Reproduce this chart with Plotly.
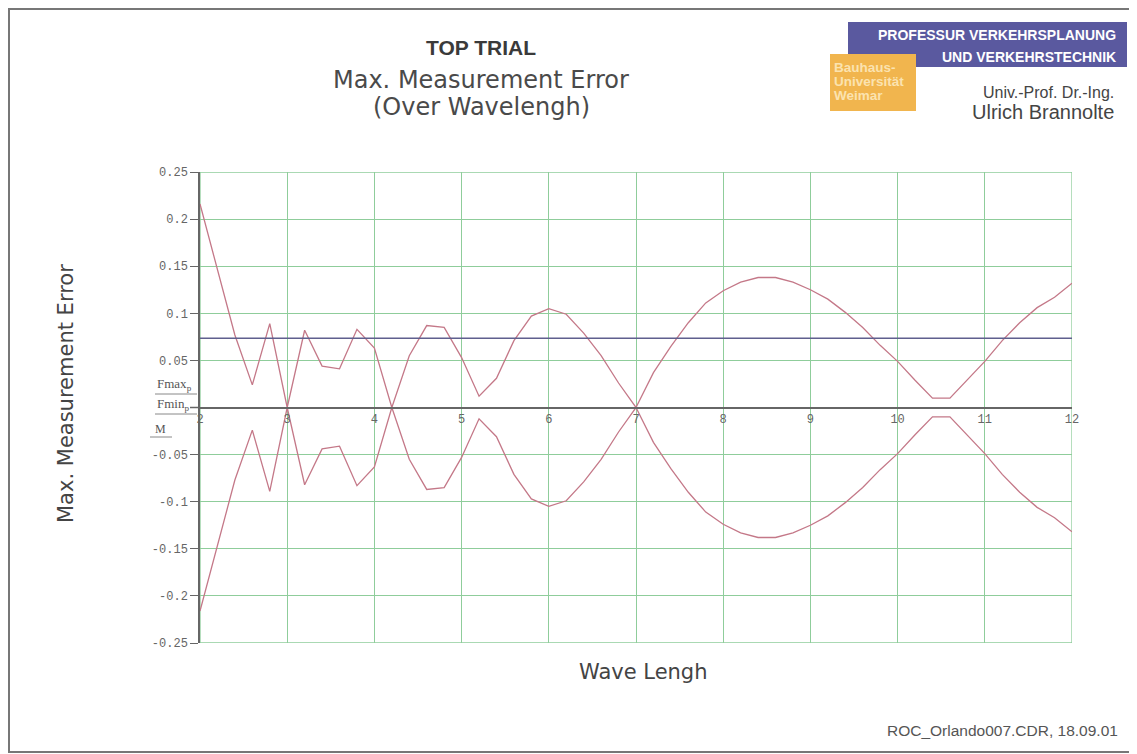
import plotly.graph_objects as go

# wave length samples (step 0.2)
wave_length = [2.0, 2.2, 2.4, 2.6, 2.8, 3.0, 3.2, 3.4, 3.6, 3.8,
               4.0, 4.2, 4.4, 4.6, 4.8, 5.0, 5.2, 5.4, 5.6, 5.8,
               6.0, 6.2, 6.4, 6.6, 6.8, 7.0, 7.2, 7.4, 7.6, 7.8,
               8.0, 8.2, 8.4, 8.6, 8.8, 9.0, 9.2, 9.4, 9.6, 9.8,
               10.0, 10.2, 10.4, 10.6, 10.8, 11.0, 11.2, 11.4, 11.6, 11.8,
               12.0]

f_max = [0.216, 0.145, 0.077, 0.024, 0.089, 0.000, 0.082, 0.044, 0.041, 0.083,
         0.063, 0.000, 0.055, 0.087, 0.085, 0.053, 0.012, 0.031, 0.071, 0.097,
         0.105, 0.099, 0.079, 0.055, 0.026, 0.000, 0.037, 0.065, 0.090, 0.111,
         0.124, 0.133, 0.138, 0.138, 0.133, 0.125, 0.115, 0.101, 0.085, 0.066,
         0.049, 0.029, 0.010, 0.010, 0.030, 0.049, 0.071, 0.090, 0.106, 0.117,
         0.132]

f_min = [-0.216, -0.145, -0.077, -0.024, -0.089, -0.000, -0.082, -0.044, -0.041, -0.083,
         -0.063, -0.000, -0.055, -0.087, -0.085, -0.053, -0.012, -0.031, -0.071, -0.097,
         -0.105, -0.099, -0.079, -0.055, -0.026, -0.000, -0.037, -0.065, -0.090, -0.111,
         -0.124, -0.133, -0.138, -0.138, -0.133, -0.125, -0.115, -0.101, -0.085, -0.066,
         -0.049, -0.029, -0.010, -0.010, -0.030, -0.049, -0.071, -0.090, -0.106, -0.117,
         -0.132]

m_x = [2.0, 12.0]
m_level = [0.0735, 0.0735]

x_ticks = [2, 3, 4, 5, 6, 7, 8, 9, 10, 11, 12]
y_ticks = [0.25, 0.2, 0.15, 0.1, 0.05, -0.05, -0.1, -0.15, -0.2, -0.25]
y_ticktext = ["0.25", "0.2", "0.15", "0.1", "0.05", "-0.05", "-0.1", "-0.15", "-0.2", "-0.25"]

# the page body adds an 8px margin, so the figure is drawn 8px smaller / shifted
OFF = 8
W, H = 1137 - OFF, 754 - OFF
ML, MR, MT, MB = 200 - OFF, 65, 172 - OFF, 111
PW, PH = W - ML - MR, H - MT - MB


def px(x):  # screen pixel -> paper x
    return (x - OFF - ML) / PW


def py(y):  # screen pixel -> paper y
    return (H - MB - (y - OFF)) / PH


CURVE = "#c47888"
GRID = "#8fcd9b"
AXIS = "#666"
SANS = "Liberation Sans, Arial, sans-serif"
WIDE = "DejaVu Sans, sans-serif"
MONO = "Liberation Mono, Courier New, monospace"
SERIF = "Liberation Serif, serif"

fig = go.Figure()
fig.add_trace(go.Scatter(x=wave_length, y=f_max, mode="lines", name="Fmax",
                         line=dict(color=CURVE, width=1.3)))
fig.add_trace(go.Scatter(x=wave_length, y=f_min, mode="lines", name="Fmin",
                         line=dict(color=CURVE, width=1.3)))
fig.add_trace(go.Scatter(x=m_x, y=m_level, mode="lines", name="M",
                         line=dict(color="#5f5f8e", width=1.5)))

fig.update_layout(
    width=W, height=H,
    margin=dict(l=ML, r=MR, t=MT, b=MB),
    paper_bgcolor="white", plot_bgcolor="white",
    showlegend=False,
    xaxis=dict(range=[2, 12], tickvals=x_ticks, showgrid=True, gridcolor=GRID, gridwidth=1.3,
               zeroline=False, anchor="free", position=0.5, showline=True,
               linecolor=AXIS, linewidth=1.5, ticks="",
               tickfont=dict(family=MONO, size=12, color="#666")),
    yaxis=dict(range=[-0.25, 0.25], tickvals=y_ticks, ticktext=y_ticktext,
               showgrid=True, gridcolor=GRID, gridwidth=1.3, zeroline=False,
               showline=True, linecolor=AXIS, linewidth=1.5,
               ticks="outside", ticklen=8, tickcolor=AXIS,
               tickfont=dict(family=MONO, size=12, color="#666")),
)

shapes = [
    # outer frame
    dict(type="rect", xref="paper", yref="paper", x0=px(9), x1=px(1134), y0=py(9), y1=py(752),
         line=dict(color="#777", width=2), layer="below"),
    # green plot border
    dict(type="rect", xref="x", yref="y", x0=2, x1=12, y0=-0.25, y1=0.25,
         line=dict(color=GRID, width=1.3), layer="below"),
    # zero line stub left of the y axis
    dict(type="line", xref="paper", yref="y", x0=px(190), x1=px(200), y0=0, y1=0,
         line=dict(color=AXIS, width=1.5)),
    # logo boxes
    dict(type="rect", xref="paper", yref="paper", x0=px(848), x1=px(1127), y0=py(22), y1=py(67),
         fillcolor="#5a599f", line=dict(width=0)),
    dict(type="rect", xref="paper", yref="paper", x0=px(830), x1=px(916), y0=py(54), y1=py(111),
         fillcolor="#f1b54e", line=dict(width=0)),
    # trace label underlines
    dict(type="line", xref="paper", yref="paper", x0=px(155), x1=px(197), y0=py(394), y1=py(394),
         line=dict(color="#888", width=1)),
    dict(type="line", xref="paper", yref="paper", x0=px(155), x1=px(197), y0=py(414), y1=py(414),
         line=dict(color="#888", width=1)),
    dict(type="line", xref="paper", yref="paper", x0=px(150), x1=px(172), y0=py(437), y1=py(437),
         line=dict(color="#888", width=1)),
]
fig.update_layout(shapes=shapes)


def note(text, x, y, size, color="#444", xanchor="center", family=SANS, angle=0):
    fig.add_annotation(text=text, xref="paper", yref="paper", x=px(x), y=py(y),
                       xanchor=xanchor, yanchor="middle", showarrow=False, textangle=angle,
                       font=dict(family=family, size=size, color=color))


note("<b>TOP TRIAL</b>", 481, 47, 21, "#3a3a3a")
note("Max. Measurement Error", 481, 80, 24, "#4a4a4a", family=WIDE)
note("(Over Wavelengh)", 481, 107, 24, "#4a4a4a", family=WIDE)
note("<b>PROFESSUR VERKEHRSPLANUNG</b>", 1118, 35, 14, "white", "right")
note("<b>UND VERKEHRSTECHNIK</b>", 1118, 57, 14, "white", "right")
note("<b>Bauhaus-</b>", 832, 67, 13.5, "#fbe3b0", "left")
note("<b>Universität</b>", 832, 81, 13.5, "#fbe3b0", "left")
note("<b>Weimar</b>", 832, 95, 13.5, "#fbe3b0", "left")
note("Univ.-Prof. Dr.-Ing.", 1116, 92, 16, "#444", "right")
note("Ulrich Brannolte", 1116, 112, 20, "#444", "right")
note("Max. Measurement Error", 66, 394, 21, "#444", family=WIDE, angle=-90)
note("Wave Lengh", 643, 672, 21, "#444", family=WIDE)
note("ROC_Orlando007.CDR, 18.09.01", 1120, 730, 15.5, "#555", "right")
note("Fmax<sub>p</sub>", 155, 384, 13, "#555", "left", SERIF)
note("Fmin<sub>p</sub>", 155, 404, 13, "#555", "left", SERIF)
note("M", 153, 429, 12, "#555", "left", SERIF)

fig.write_html("out.html")
